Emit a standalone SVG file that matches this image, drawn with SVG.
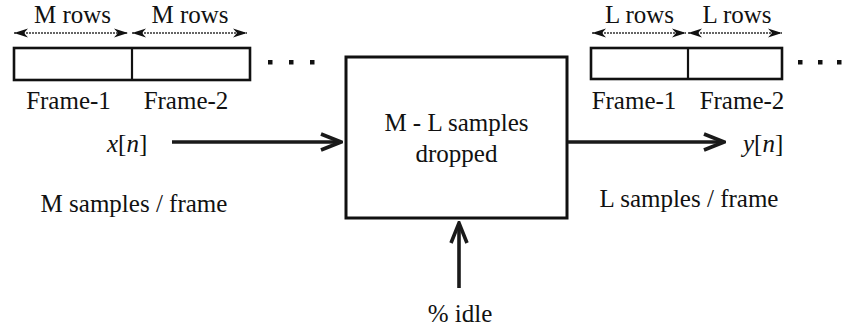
<svg xmlns="http://www.w3.org/2000/svg" width="843" height="332" viewBox="0 0 843 332">
<style>
  text { font-family: "Liberation Serif", "Times New Roman", serif; font-size: 25px; fill: #111; }
  .c { text-anchor: middle; }
  .it { font-style: italic; }
  .frame { fill: #fff; stroke: #111; stroke-width: 2.6; }
  .div { stroke: #111; stroke-width: 2.2; }
  .dim { stroke: #333; stroke-width: 1.3; stroke-dasharray: 2 1; fill: none; }
  .flow { stroke: #1a1a1a; stroke-width: 3.6; fill: none; }
  .dot { fill: #111; }
</style>
<defs>
  <marker id="dimHead" viewBox="-15 -5 16 10" refX="0" refY="0" markerWidth="16" markerHeight="10" markerUnits="userSpaceOnUse" orient="auto-start-reverse">
    <path d="M0,0 L-14,-4.5 L-10,0 L-14,4.5 Z" fill="#111"/>
  </marker>
  <marker id="chev" viewBox="-24 -11 26 22" refX="0" refY="0" markerWidth="26" markerHeight="22" markerUnits="userSpaceOnUse" orient="auto">
    <path d="M-20,-8 L0,0 L-20,8" fill="none" stroke="#1a1a1a" stroke-width="3.6" stroke-linejoin="miter"/>
  </marker>
</defs>

<g id="input-frames">
  <text class="c" x="72.5" y="23">M rows</text>
  <text class="c" x="190" y="23">M rows</text>
  <rect class="frame" x="14" y="48" width="236" height="32"/>
  <line class="div" x1="132" y1="48" x2="132" y2="80"/>
  <rect class="dot" x="268" y="60" width="4.5" height="4.5"/>
  <rect class="dot" x="289" y="60" width="4.5" height="4.5"/>
  <rect class="dot" x="310" y="60" width="4.5" height="4.5"/>
  <text class="c" x="68.5" y="109">Frame-1</text>
  <text class="c" x="186" y="109">Frame-2</text>
</g>

<g id="output-frames">
  <text class="c" x="639.5" y="23">L rows</text>
  <text class="c" x="737" y="23">L rows</text>
  <rect class="frame" x="591" y="48" width="191" height="31"/>
  <line class="div" x1="688" y1="48" x2="688" y2="79"/>
  <rect class="dot" x="798" y="60" width="4.5" height="4.5"/>
  <rect class="dot" x="818" y="60" width="4.5" height="4.5"/>
  <rect class="dot" x="837" y="60" width="4.5" height="4.5"/>
  <text class="c" x="634" y="109">Frame-1</text>
  <text class="c" x="742" y="109">Frame-2</text>
</g>

<g id="input-label">
  <text x="107" y="152"><tspan class="it">x</tspan>[<tspan class="it">n</tspan>]</text>
  <text class="c" x="134" y="212">M samples / frame</text>
</g>

<g id="dropper">
  <rect x="346" y="57" width="221" height="161" fill="#fff" stroke="#111" stroke-width="3"/>
  <text class="c" x="456.5" y="131">M - L samples</text>
  <text class="c" x="456.5" y="162">dropped</text>
</g>

<g id="output-label">
  <text x="743" y="152"><tspan class="it">y</tspan>[<tspan class="it">n</tspan>]</text>
  <text class="c" x="689" y="207">L samples / frame</text>
</g>

<g id="idle-label">
  <text class="c" x="460" y="322">% idle</text>
</g>

<g id="connectors">
  <line class="dim" x1="14" y1="33" x2="128" y2="33" marker-start="url(#dimHead)" marker-end="url(#dimHead)"/>
  <line class="dim" x1="132" y1="33" x2="247" y2="33" marker-start="url(#dimHead)" marker-end="url(#dimHead)"/>
  <line class="dim" x1="592" y1="33" x2="686" y2="33" marker-start="url(#dimHead)" marker-end="url(#dimHead)"/>
  <line class="dim" x1="688" y1="33" x2="782" y2="33" marker-start="url(#dimHead)" marker-end="url(#dimHead)"/>
  <line class="flow" x1="172" y1="142" x2="341" y2="142" marker-end="url(#chev)"/>
  <line class="flow" x1="568" y1="142" x2="724" y2="142" marker-end="url(#chev)"/>
  <line class="flow" x1="459" y1="288" x2="459" y2="223" marker-end="url(#chev)"/>
</g>
</svg>
